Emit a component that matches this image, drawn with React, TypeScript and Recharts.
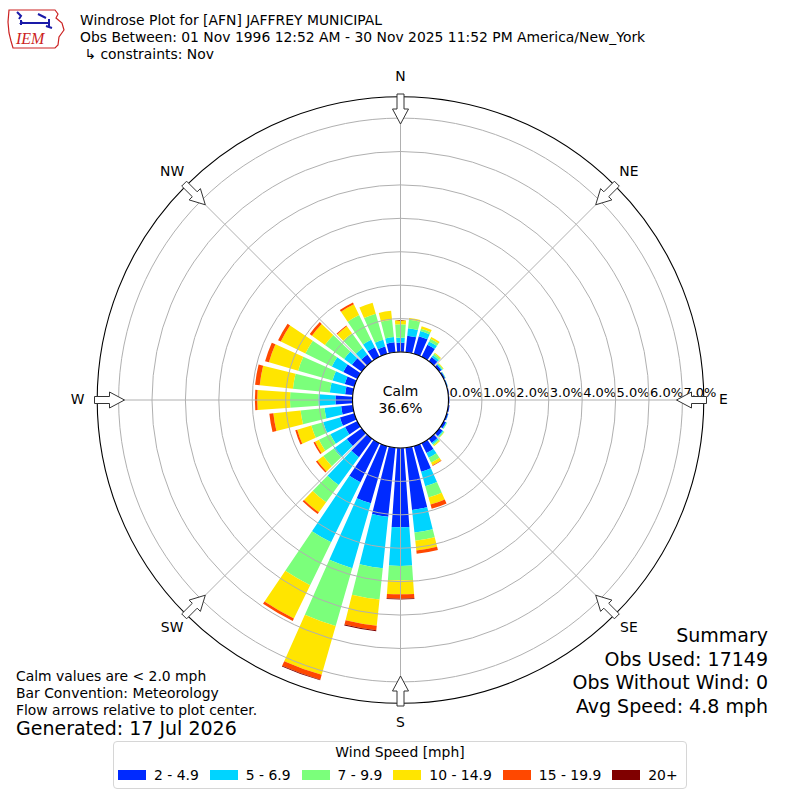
import { RadialBarChart, RadialBar, PolarAngleAxis, PolarRadiusAxis, PolarGrid } from 'recharts'

// wind directions (deg, meteorological, clockwise from north)
const directions = [0, 10, 20, 30, 40, 50, 60, 70, 80, 90, 100, 110, 120, 130, 140, 150, 160, 170,
  180, 190, 200, 210, 220, 230, 240, 250, 260, 270, 280, 290, 300, 310, 320, 330, 340, 350]

const speedBins = ['2 - 4.9', '5 - 6.9', '7 - 9.9', '10 - 14.9', '15 - 19.9', '20+']
const binColors = ['#002aff', '#00d4ff', '#7bff7b', '#ffe500', '#ff4800', '#800000']

// percent of all obs, per direction
const speed2to5 = [0.28, 0.50, 0.55, 0.40, 0.15, 0.08, 0.05, 0.03, 0.03, 0.03, 0.04, 0.05, 0.08, 0.12, 0.15, 0.33, 0.80, 1.87,
  2.37, 2.08, 1.78, 1.30, 0.68, 0.55, 0.41, 0.45, 0.35, 0.51, 0.23, 0.30, 0.47, 0.36, 0.25, 0.32, 0.23, 0.30]
const speed5to7 = [0.15, 0.22, 0.16, 0.11, 0.07, 0.03, 0.01, 0.01, 0, 0, 0, 0.01, 0.02, 0.03, 0.05, 0.16, 0.45, 0.68,
  1.16, 1.55, 2.02, 2.00, 1.03, 0.48, 0.49, 0.52, 0.50, 0.51, 0.46, 0.38, 0.38, 0.29, 0.24, 0.25, 0.21, 0.16]
const speed7to10 = [0.40, 0.26, 0.07, 0.09, 0.06, 0.03, 0.01, 0, 0, 0, 0, 0, 0.02, 0.03, 0.04, 0.16, 0.35, 0.25,
  0.43, 0.94, 1.80, 1.43, 0.64, 0.39, 0.38, 0.37, 0.72, 0.85, 1.11, 1.07, 0.88, 0.71, 0.54, 0.82, 0.81, 0.52]
const speed10to15 = [0.12, 0.05, 0.08, 0.06, 0.03, 0.02, 0, 0, 0, 0, 0, 0, 0, 0.01, 0.03, 0.09, 0.22, 0.29,
  0.42, 0.79, 1.52, 1.11, 0.37, 0.22, 0.13, 0.44, 0.82, 0.98, 1.00, 0.91, 0.82, 0.48, 0.26, 0.36, 0.34, 0.27]
const speed15to20 = [0, 0, 0, 0, 0, 0, 0, 0, 0, 0, 0, 0, 0, 0, 0, 0.02, 0.13, 0.10,
  0.13, 0.13, 0.15, 0.08, 0.06, 0.05, 0.05, 0.06, 0.12, 0.07, 0.14, 0.12, 0.09, 0.08, 0.03, 0.06, 0, 0]
const speed20plus = [0, 0, 0, 0, 0, 0, 0, 0, 0, 0, 0, 0, 0, 0, 0, 0, 0, 0,
  0.02, 0.03, 0.02, 0, 0, 0, 0, 0, 0, 0, 0, 0, 0, 0, 0, 0, 0, 0]

const radiusTicks = [0, 1, 2, 3, 4, 5, 6, 7]
const radiusDomainMax = 8
const plotEdgePct = 7.64 // where the black frame circle sits
const compassLabels = ['N', 'NE', 'E', 'SE', 'S', 'SW', 'W', 'NW']
const calmPercent = 36.6

const titleLines = [
  'Windrose Plot for [AFN] JAFFREY MUNICIPAL',
  'Obs Between: 01 Nov 1996 12:52 AM - 30 Nov 2025 11:52 PM America/New_York',
  ' \u21b3 constraints: Nov',
]
const summaryLines = ['Summary', 'Obs Used: 17149', 'Obs Without Wind: 0', 'Avg Speed: 4.8 mph']
const noteLines = ['Calm values are < 2.0 mph', 'Bar Convention: Meteorology', 'Flow arrows relative to plot center.']
const generatedText = 'Generated: 17 Jul 2026'

const seriesKeys = ['s0', 's1', 's2', 's3', 's4', 's5']
const series = [speed2to5, speed5to7, speed7to10, speed10to15, speed15to20, speed20plus]

const rows = directions.map((d, i) => {
  const row: Record<string, number | string> = { dir: String(d) }
  seriesKeys.forEach((k, j) => { row[k] = series[j][i] })
  return row
})

const CX = 400.5
const CY = 400
const R0 = 48
const R_OUT = 303.3
const PX_PER_PCT = (R_OUT - R0) / plotEdgePct
const R_AXIS = R0 + radiusDomainMax * PX_PER_PCT
const FONT = '"DejaVu Sans", sans-serif'

const chartProps = {
  width: 800,
  height: 800,
  cx: CX,
  cy: CY,
  innerRadius: R0,
  outerRadius: R_AXIS,
  startAngle: 85,
  endAngle: -275,
  layout: 'centric' as const,
  data: rows,
  barCategoryGap: '10%',
  margin: { top: 0, right: 0, bottom: 0, left: 0 },
}

function pt(deg: number, r: number) {
  const a = deg * Math.PI / 180
  return [CX + r * Math.sin(a), CY - r * Math.cos(a)]
}

function arrowPoints(deg: number) {
  const a = deg * Math.PI / 180
  const local = [[276, 0], [291, 8], [291, 3.5], [306, 3.5], [306, -3.5], [291, -3.5], [291, -8]]
  return local.map(([u, v]) => {
    const x = CX + u * Math.sin(a) + v * Math.cos(a)
    const y = CY - u * Math.cos(a) + v * Math.sin(a)
    return `${x.toFixed(1)},${y.toFixed(1)}`
  }).join(' ')
}

function RadiusTick({ x, y, payload }: any) {
  return (
    <text x={x + 1} y={y - 3} fontSize={13} fontFamily={FONT} fill="#000">
      {Number(payload.value).toFixed(1)}%
    </text>
  )
}

function Logo() {
  return (
    <g>
      <path d="M9,10 L55,10 L58,14 L56,18 L62,23 L64,30 L59,37 L58,45 L55,48 L13,48 L11,41 L9,33 L8,22 Z"
        fill="none" stroke="#cc2222" strokeWidth={1.2} />
      <path d="M17,12 L21,16 L19,19" fill="none" stroke="#1a1aa8" strokeWidth={2} />
      <path d="M21,20 L21,25 M21,23 L50,23 M38,14 L46,18 M49,19 L49,28 M46,26 L52,28" fill="none" stroke="#1a1aa8" strokeWidth={2} />
      <path d="M19,24 L22,21 L24,24 Z" fill="#1a1aa8" />
      <text x={16} y={44} fontSize={16} fontStyle="italic" fontFamily='"Liberation Serif", serif' fill="#cc2222">IEM</text>
    </g>
  )
}

export default function App() {
  return (
    <div style={{ position: 'relative', width: 800, height: 800, background: '#fff', fontFamily: FONT }}>
      <style>{'body{margin:0}'}</style>
      {/* bars */}
      <RadialBarChart {...chartProps}>
        <PolarAngleAxis type="category" dataKey="dir" tick={false} axisLine={false} tickLine={false} />
        <PolarRadiusAxis
          type="number"
          angle={0}
          domain={[0, radiusDomainMax]}
          ticks={radiusTicks}
          tick={RadiusTick}
          axisLine={false}
          tickLine={false}
        />
        {seriesKeys.map((k, i) => (
          <RadialBar key={k} dataKey={k} stackId="a" fill={binColors[i]} isAnimationActive={false} />
        ))}
      </RadialBarChart>

      {/* rings drawn over the bars, like matplotlib does */}
      <div style={{ position: 'absolute', left: 0, top: 0, pointerEvents: 'none' }}>
        <RadialBarChart {...chartProps}>
          <PolarAngleAxis type="category" dataKey="dir" tick={false} axisLine={false} tickLine={false} />
          <PolarRadiusAxis
            type="number"
            angle={0}
            domain={[0, radiusDomainMax]}
            ticks={radiusTicks}
            tick={false}
            axisLine={false}
            tickLine={false}
          />
          <RadialBar dataKey="s0" fill="transparent" fillOpacity={0} isAnimationActive={false} />
          <PolarGrid gridType="circle" radialLines={false} stroke="#b0b0b0" strokeWidth={1} />
        </RadialBarChart>
      </div>

      <svg width={800} height={800} style={{ position: 'absolute', left: 0, top: 0, pointerEvents: 'none' }}>
        <Logo />
        {titleLines.map((t, i) => (
          <text key={i} x={80} y={25 + i * 17} fontSize={13.9} fontFamily={FONT} fill="#000" style={{ whiteSpace: 'pre' }}>{t}</text>
        ))}
        {compassLabels.map((lab, i) => {
          const [x1, y1] = pt(i * 45, R0)
          const [x2, y2] = pt(i * 45, R_OUT)
          return <line key={lab} x1={x1} y1={y1} x2={x2} y2={y2} stroke="#b0b0b0" strokeWidth={1} />
        })}
        <circle cx={CX} cy={CY} r={R_OUT} fill="none" stroke="#000" strokeWidth={1.1} />
        <circle cx={CX} cy={CY} r={R0} fill="#fff" stroke="#000" strokeWidth={1.1} />
        <text x={CX} y={396} textAnchor="middle" fontSize={13.9} fontFamily={FONT}>Calm</text>
        <text x={CX} y={413} textAnchor="middle" fontSize={13.9} fontFamily={FONT}>{calmPercent.toFixed(1)}%</text>
        {compassLabels.map((lab, i) => {
          const [lx, ly] = pt(i * 45, 323)
          return (
            <g key={lab}>
              <polygon points={arrowPoints(i * 45)} fill="#fff" stroke="#333" strokeWidth={1} />
              <text x={lx} y={ly + 4} textAnchor="middle" fontSize={13.9} fontFamily={FONT}>{lab}</text>
            </g>
          )
        })}
        {summaryLines.map((t, i) => (
          <text key={t} x={768} y={642 + i * 23.5} textAnchor="end" fontSize={19} fontFamily={FONT}>{t}</text>
        ))}
        {noteLines.map((t, i) => (
          <text key={t} x={16} y={681 + i * 17} fontSize={13.9} fontFamily={FONT}>{t}</text>
        ))}
        <text x={16} y={735} fontSize={19} fontFamily={FONT}>{generatedText}</text>
      </svg>

      <div style={{
        position: 'absolute', left: 113, top: 741, width: 574, height: 48, boxSizing: 'border-box',
        border: '1px solid #d6d6d6', borderRadius: 4, background: '#fff', fontSize: 13.9, color: '#000',
      }}>
        <div style={{ position: 'absolute', top: 2, left: 0, right: 0, textAlign: 'center', lineHeight: '16px' }}>Wind Speed [mph]</div>
        <div style={{ position: 'absolute', top: 25, left: 4, display: 'flex', alignItems: 'center', lineHeight: '16px' }}>
          {speedBins.map((b, i) => (
            <div key={b} style={{ display: 'flex', alignItems: 'center', marginRight: 11 }}>
              <span style={{ display: 'inline-block', width: 28, height: 10, background: binColors[i], marginRight: 8 }} />
              <span style={{ whiteSpace: 'nowrap' }}>{b}</span>
            </div>
          ))}
        </div>
      </div>
    </div>
  )
}
